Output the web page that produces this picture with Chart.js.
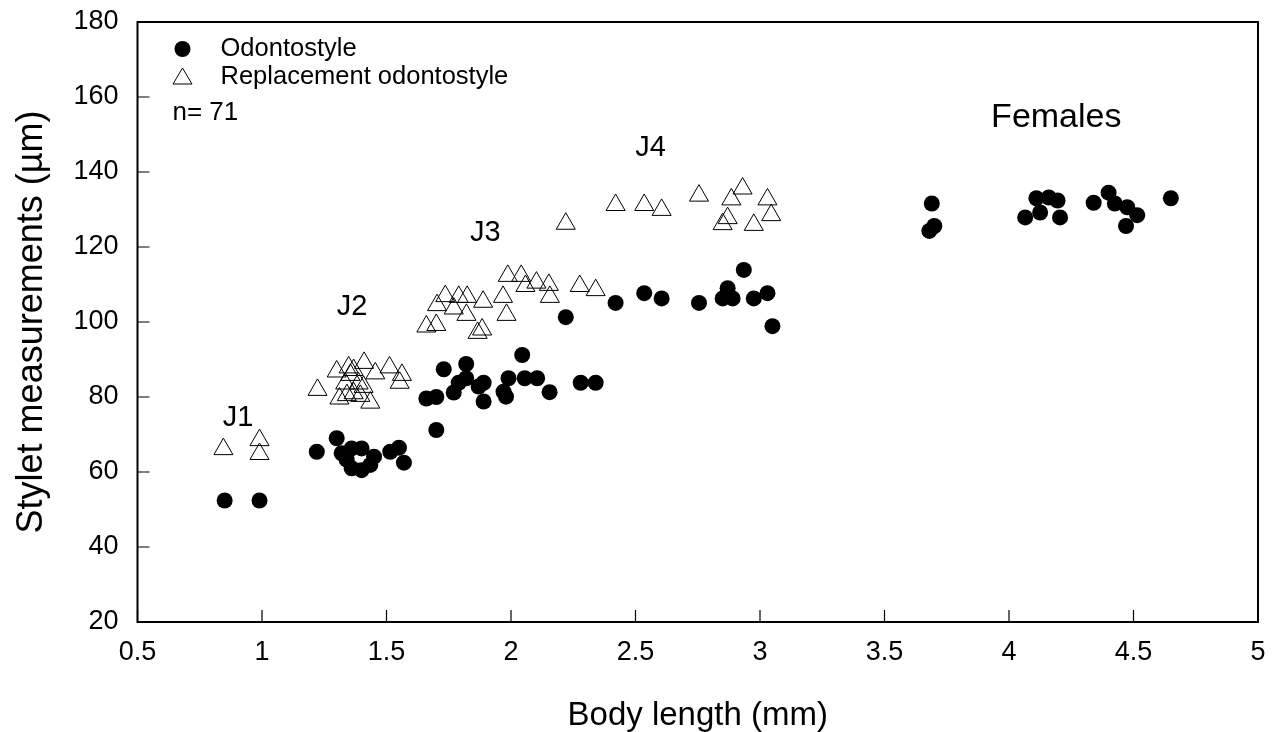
<!DOCTYPE html>
<html lang="en">
<head>
  <meta charset="utf-8" />
  <title>Stylet measurements vs body length</title>
  <script src="https://cdn.jsdelivr.net/npm/chart.js"></script>
  <style>
    html, body { margin: 0; padding: 0; background: #fff; }
    #wrap { width: 1272px; height: 732px; }
  </style>
</head>
<body>
  <div id="wrap"><canvas id="chart"></canvas></div>

  <script>
    // body length (mm) and stylet length (um)
    const odontoLength = [
      0.85, 0.99,
      1.22, 1.30, 1.32, 1.36, 1.40, 1.45, 1.36, 1.40, 1.435, 1.34, 1.515, 1.55, 1.57,
      1.70, 1.66, 1.70, 1.73, 1.77, 1.79, 1.82, 1.82, 1.87, 1.89, 1.89, 1.97, 1.98, 1.99,
      2.045, 2.055, 2.105, 2.155, 2.28, 2.34, 2.22,
      2.42, 2.535, 2.605, 2.755, 2.87, 2.85, 2.89, 2.935, 2.975, 3.03, 3.05,
      3.69, 3.70, 3.68,
      4.065, 4.11, 4.125, 4.16, 4.195, 4.205, 4.34, 4.40, 4.425, 4.475, 4.515, 4.47, 4.65
    ];
    const odontoStylet = [
      52.4, 52.4,
      65.4, 69.0, 65.0, 66.3, 66.3, 64.1, 61.0, 60.5, 61.9, 63.3, 65.4, 66.5, 62.5,
      71.2, 79.6, 80.0, 87.4, 81.2, 83.8, 88.8, 85.0, 82.8, 83.8, 78.8, 81.4, 80.1, 85.0,
      91.2, 85.0, 85.0, 81.3, 83.8, 83.8, 101.3,
      105.1, 107.7, 106.3, 105.1, 109.0, 106.3, 106.3, 113.9, 106.3, 107.7, 98.9,
      131.6, 125.6, 124.3,
      127.9, 133.0, 129.2, 133.2, 132.4, 127.9, 131.8, 134.5, 131.6, 130.6, 128.5, 125.6, 133.0
    ];

    const replLength = [
      0.845, 0.99, 0.99,
      1.223, 1.30, 1.348, 1.368, 1.41, 1.455, 1.512, 1.562, 1.553, 1.334, 1.388,
      1.311, 1.341, 1.368, 1.395, 1.435, 1.408, 1.355,
      1.66, 1.70, 1.703, 1.736, 1.77, 1.79, 1.824, 1.821, 1.888, 1.866, 1.884, 1.982, 1.968,
      1.987, 2.041, 2.058, 2.102, 2.152, 2.156, 2.276, 2.34,
      2.22, 2.42, 2.535, 2.605, 2.755, 2.885, 2.93, 3.03, 3.045, 2.975, 2.87, 2.85
    ];
    const replStylet = [
      66.1, 68.5, 64.8,
      81.9, 86.8, 87.9, 87.2, 89.1, 86.3, 87.9, 85.9, 83.8, 83.6, 83.6,
      79.6, 80.5, 81.0, 80.3, 78.5, 82.7, 85.9,
      98.8, 99.2, 104.5, 106.9, 103.6, 106.7, 106.7, 101.9, 105.4, 97.1, 98.0, 101.9, 106.7,
      112.3, 112.3, 109.6, 110.5, 109.9, 106.7, 109.6, 108.5,
      126.2, 131.2, 131.2, 129.9, 133.7, 132.7, 135.6, 132.7, 128.5, 125.9, 127.7, 126.1
    ];

    // stage labels, placed in data units
    const stageNames = ['J1', 'J2', 'J3', 'J4', 'Females'];
    const stageX = [0.904, 1.362, 1.897, 2.561, 4.19];
    const stageY = [74.4, 104, 123.7, 146.4, 154.4];

    const FONT = '"Liberation Sans", Arial, Helvetica, sans-serif';

    const toPoints = (xs, ys) => xs.map((x, i) => ({ x: x, y: ys[i] }));

    // keep the plot box where the reference has it
    function noOverhang(scale) {
      scale.paddingTop = 0;
      scale.paddingBottom = 0;
      scale.paddingLeft = 0;
      scale.paddingRight = 0;
    }

    // frame, inward ticks, stage labels and the little legend
    const decor = {
      id: 'decor',
      afterDatasetsDraw(chart) {
        const { ctx, chartArea: a, scales } = chart;
        ctx.save();
        ctx.strokeStyle = '#000';
        ctx.lineWidth = 2;
        ctx.strokeRect(a.left, a.top, a.right - a.left, a.bottom - a.top);

        ctx.lineWidth = 1.2;
        ctx.beginPath();
        scales.x.ticks.forEach((t, i) => {
          const px = scales.x.getPixelForTick(i);
          ctx.moveTo(px, a.bottom);
          ctx.lineTo(px, a.bottom - 12);
        });
        scales.y.ticks.forEach((t, i) => {
          const py = scales.y.getPixelForTick(i);
          ctx.moveTo(a.left, py);
          ctx.lineTo(a.left + 12, py);
        });
        ctx.stroke();

        ctx.fillStyle = '#000';
        ctx.textAlign = 'center';
        ctx.textBaseline = 'middle';
        stageNames.forEach((name, i) => {
          ctx.font = (name === 'Females' ? '34px ' : '29px ') + FONT;
          ctx.fillText(name, scales.x.getPixelForValue(stageX[i]), scales.y.getPixelForValue(stageY[i]));
        });

        // legend
        const lx = a.left + 45, ly = a.top + 27;
        ctx.beginPath();
        ctx.arc(lx, ly, 8, 0, Math.PI * 2);
        ctx.fill();
        ctx.beginPath();
        ctx.lineWidth = 1;
        ctx.moveTo(lx, ly + 19);
        ctx.lineTo(lx + 9.5, ly + 35);
        ctx.lineTo(lx - 9.5, ly + 35);
        ctx.closePath();
        ctx.stroke();

        ctx.textAlign = 'left';
        ctx.font = '25.5px ' + FONT;
        ctx.fillText('Odontostyle', lx + 38, ly);
        ctx.fillText('Replacement odontostyle', lx + 38, ly + 28);
        ctx.font = '26px ' + FONT;
        ctx.fillText('n= 71', a.left + 35, ly + 64);
        ctx.restore();
      }
    };

    new Chart(document.getElementById('chart'), {
      type: 'scatter',
      data: {
        datasets: [
          {
            label: 'Odontostyle',
            data: toPoints(odontoLength, odontoStylet),
            pointStyle: 'circle',
            pointRadius: 8,
            pointHoverRadius: 8,
            backgroundColor: '#000',
            borderColor: '#000',
            borderWidth: 0
          },
          {
            label: 'Replacement odontostyle',
            data: toPoints(replLength, replStylet),
            pointStyle: 'triangle',
            pointRadius: 11,
            pointHoverRadius: 11,
            backgroundColor: 'rgba(255,255,255,0)',
            borderColor: '#000',
            borderWidth: 1
          }
        ]
      },
      options: {
        responsive: true,
        maintainAspectRatio: false,
        animation: false,
        layout: { padding: { top: 22, right: 14, left: 0, bottom: 0 } },
        plugins: {
          legend: { display: false },
          tooltip: { enabled: false }
        },
        scales: {
          x: {
            type: 'linear',
            min: 0.5,
            max: 5,
            afterFit(scale) { scale.height = 110; noOverhang(scale); },
            grid: { display: false, drawTicks: false },
            border: { display: false },
            ticks: {
              stepSize: 0.5,
              padding: 14,
              color: '#000',
              maxRotation: 0,
              font: { family: FONT, size: 27 },
              callback: (v) => String(Math.round(v * 10) / 10)
            },
            title: {
              display: true,
              text: 'Body length (mm)',
              color: '#000',
              padding: { top: 0, bottom: 0 },
              font: { family: FONT, size: 33, lineHeight: 1 }
            }
          },
          y: {
            type: 'linear',
            min: 20,
            max: 180,
            afterFit(scale) { scale.width = 137.5; noOverhang(scale); },
            grid: { display: false, drawTicks: false },
            border: { display: false },
            ticks: {
              stepSize: 20,
              padding: 19,
              color: '#000',
              font: { family: FONT, size: 27 }
            },
            title: {
              display: true,
              text: 'Stylet measurements (µm)',
              color: '#000',
              padding: { top: 14, bottom: 0 },
              font: { family: FONT, size: 36, lineHeight: 1 }
            }
          }
        }
      },
      plugins: [decor]
    });
  </script>
</body>
</html>
